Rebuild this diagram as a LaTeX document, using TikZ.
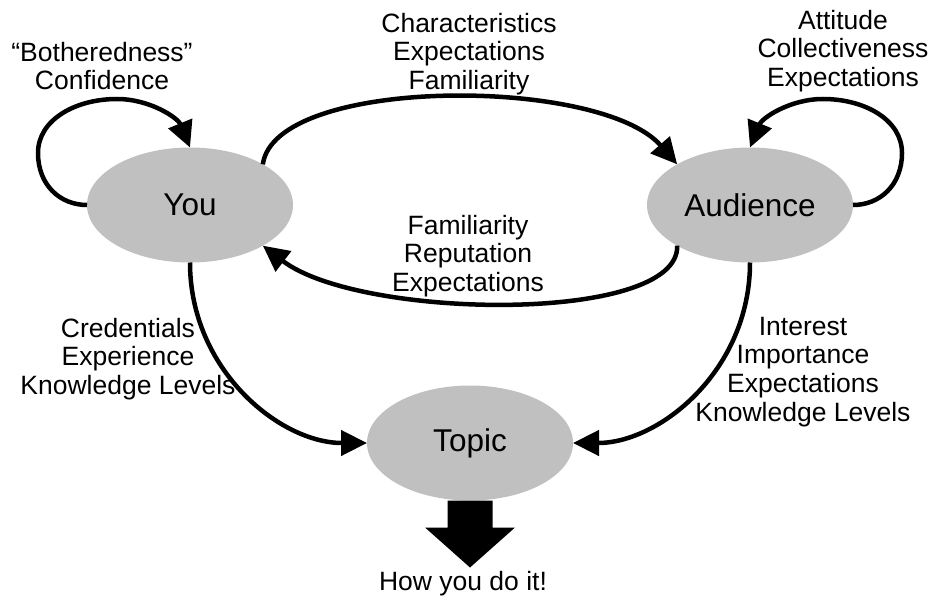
\documentclass[tikz,border=0pt]{standalone}
\usepackage{fontspec}
\setmainfont{Liberation Sans}
\usetikzlibrary{shapes.geometric,arrows.meta}
\definecolor{nodegray}{HTML}{C0C0C0}
\tikzset{
  topicnode/.style={ellipse, fill=nodegray, minimum width=206pt, minimum height=115pt, inner sep=0pt, outer sep=0pt, font=\fontsize{31.5}{36}\selectfont},
  lbl/.style={inner sep=0pt, outer sep=0pt, align=center, font=\fontsize{26.5}{28.7}\selectfont},
  conn/.style={line width=4.5pt, -{Triangle[length=26pt,width=25pt]}},
}
\begin{document}
\begin{tikzpicture}[x=1pt,y=-1pt]
\useasboundingbox (0,0) rectangle (931,596);
\node[topicnode] (you) at (190,205) {You};
\node[topicnode] (aud) at (750,205) {Audience};
\node[topicnode] (topic) at (470,443) {Topic};

\node[lbl, anchor=north] (lblTL) at (102,42) {“Botheredness”\\Confidence};
\node[lbl, anchor=north] (lblTM) at (469,13) {Characteristics\\Expectations\\Familiarity};
\node[lbl, anchor=north] (lblTR) at (843,10) {Attitude\\Collectiveness\\Expectations};
\node[lbl, anchor=north] (lblMid) at (468,215) {Familiarity\\Reputation\\Expectations};
\node[lbl, anchor=north] (lblL) at (128,318) {Credentials\\Experience\\Knowledge Levels};
\node[lbl, anchor=north] (lblR) at (803,317) {Interest\\Importance\\Expectations\\Knowledge Levels};
\node[lbl, anchor=base] (howto) at (463,590) {How you do it!};

\draw[conn] (you.west) .. controls (60,205) and (38,185) .. (38,153)
  .. controls (38,120) and (75,99) .. (117,99)
  .. controls (150,99) and (178,118) .. (you.north);
\draw[conn] (aud.east) .. controls (880,205) and (902,185) .. (902,153)
  .. controls (902,120) and (865,99) .. (823,99)
  .. controls (790,99) and (762,118) .. (aud.north);
\draw[conn] (you.north east) .. controls (275,76) and (600,76) .. (aud.north west);
\draw[conn] (aud.south west) .. controls (680,324) and (360,320) .. (you.south east);
\draw[conn] (you.south) .. controls (190,370) and (280,443) .. (topic.west);
\draw[conn] (aud.south) .. controls (750,370) and (660,443) .. (topic.east);

\fill ([xshift=-22.5pt]topic.south) -- ++(45,0) -- ++(0,27) -- ++(22.5,0)
  -- ++(-45,40) -- ++(-45,-40) -- ++(22.5,0) -- cycle;
\end{tikzpicture}
\end{document}
